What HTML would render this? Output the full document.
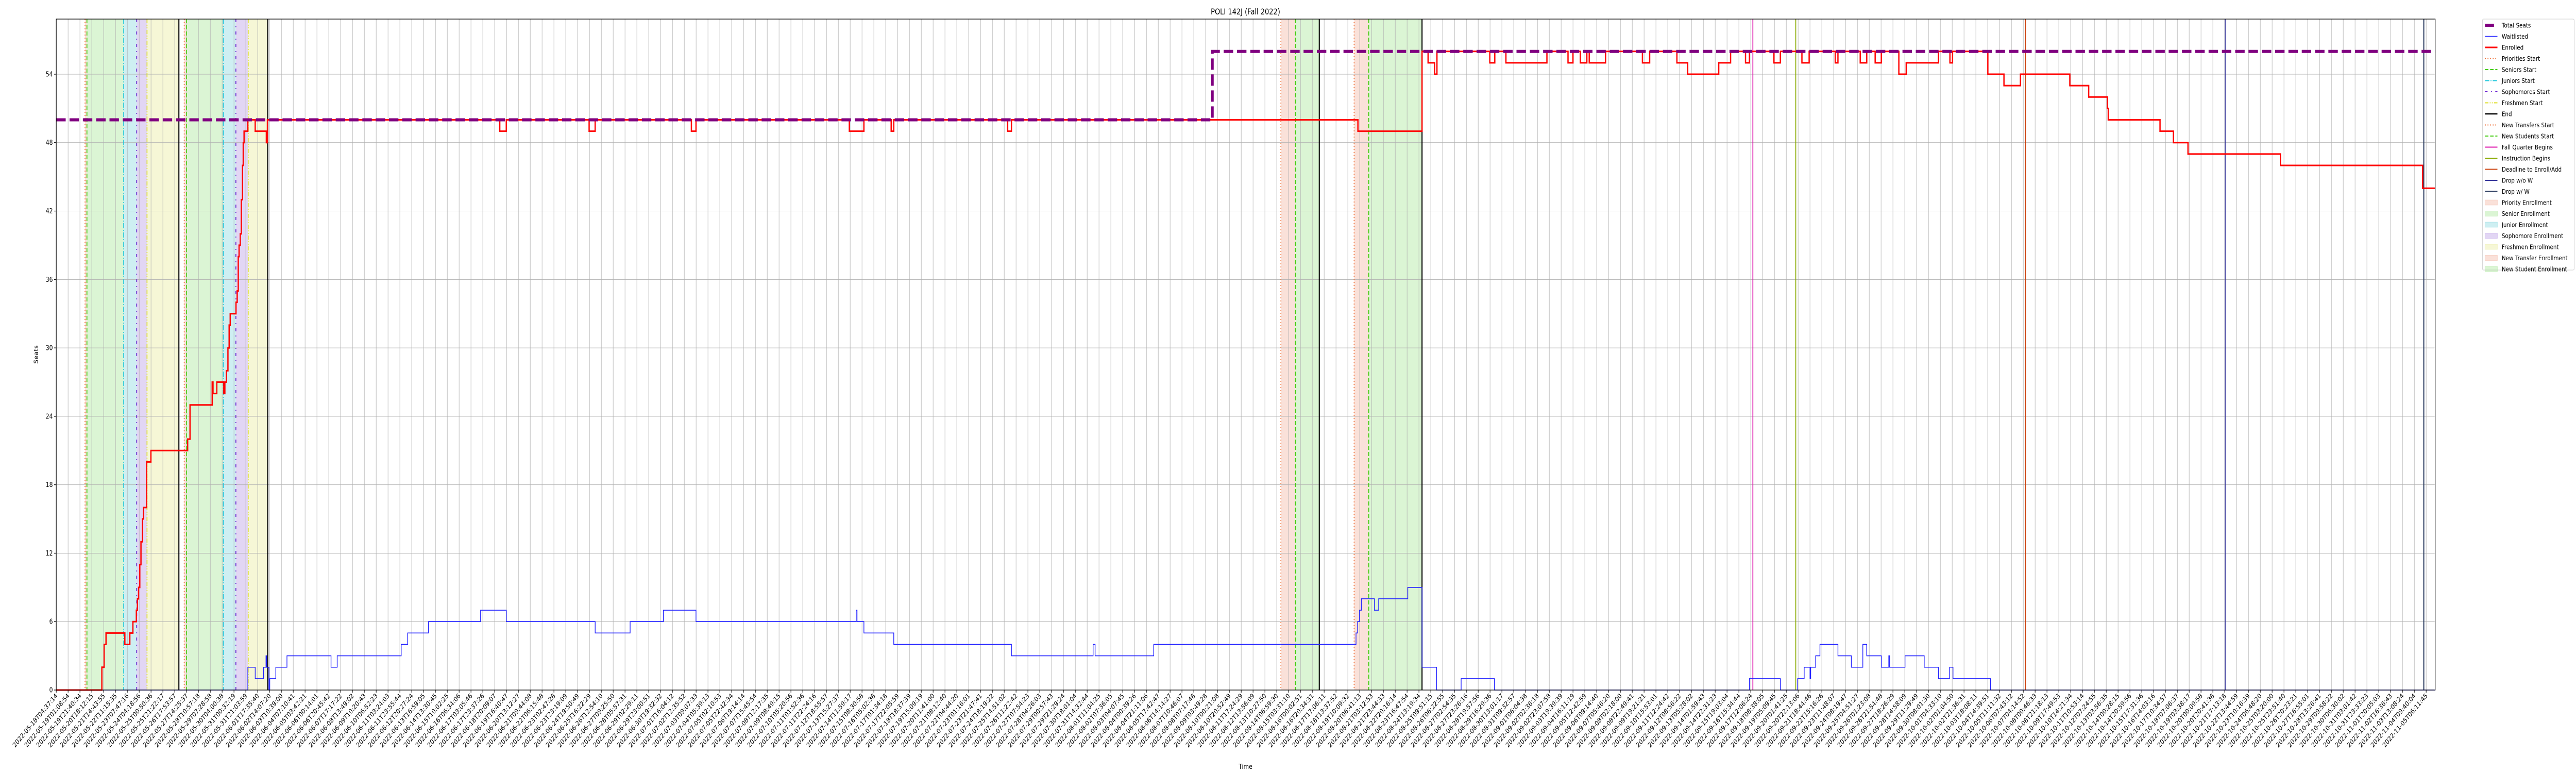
<!DOCTYPE html>
<html><head><meta charset="utf-8"><title>POLI 142J (Fall 2022)</title>
<style>
html,body{margin:0;padding:0;background:#fff;width:100%;height:100%;overflow:hidden;}
svg{display:block;overflow:hidden;width:100vw;height:100vh;}
svg text{font-family:"DejaVu Sans","Liberation Sans",sans-serif;fill:#000;}
</style></head>
<body>
<svg id="chart" xmlns="http://www.w3.org/2000/svg" viewBox="0 0 6000 1500" preserveAspectRatio="none">
<rect x="0" y="0" width="6000" height="1500" fill="#fff"/>
<g id="bands"></g>
<g id="grid"></g>
<g id="events"></g>
<g id="series"></g>
<g id="axes"></g>
<text x="2901" y="28" text-anchor="middle" font-size="15.6">POLI 142J (Fall 2022)</text>
<text x="2901" y="1492" text-anchor="middle" font-size="13">Time</text>
<text transform="translate(88,688) rotate(-90)" text-anchor="middle" font-size="13">Seats</text>
<g id="legend"></g>
</svg>
<script>
// ---- data (x in tick-index units, y in seats) ----
const totalSeatsT = [0, 97.57];
const totalSeatsV = [50, 56];
const enrolledT = [0,3.85,4.04,4.2,5.79,6.21,6.47,6.76,6.85,6.95,7.05,7.15,7.28,7.37,7.63,7.99,11.09,11.29,13.16,13.23,13.55,14.14,14.23,14.36,14.49,14.59,14.68,15.17,15.27,15.36,15.43,15.53,15.62,15.72,15.78,15.85,16.17,16.79,17.73,17.82,37.43,37.98,44.97,45.48,53.60,53.99,66.93,68.16,70.46,70.68,80.29,80.61,109.85,115.26,115.77,116.32,116.52,120.98,121.40,122.34,125.80,127.58,128.0,128.62,129.17,129.37,130.75,133.86,134.47,136.77,137.68,140.3,141.3,142.56,142.89,144.96,145.5,147.32,147.93,150.13,150.36,152.24,152.79,153.5,154.02,155.5,156.12,158.84,159.81,160.03,163.01,164.37,165.76,169.93,171.52,173.1,173.17,177.54,178.67,179.9,187.7,199.7];
const enrolledV = [0,2,4,5,4,5,6,7,8,9,11,13,15,16,20,21,22,25,27,26,27,26,27,28,30,32,33,34,35,38,39,40,43,46,48,49,50,49,48,50,49,50,49,50,49,50,49,50,49,50,49,50,49,56,55,54,56,55,56,55,56,55,56,55,56,55,56,55,56,55,54,55,56,55,56,55,56,55,56,55,56,55,56,55,56,54,55,56,55,56,54,53,54,53,52,51,50,49,48,47,46,44];
const waitT = [0,16.17,16.79,17.5,17.7,17.76,17.95,18.02,18.53,19.47,23.19,23.71,29.11,29.66,31.41,35.81,37.98,45.48,48.43,51.24,53.99,67.51,67.58,68.16,70.68,80.61,87.5,87.67,92.62,109.69,109.82,109.98,110.14,111.24,111.6,114.06,115.26,116.49,118.56,121.37,142.89,145.5,146.96,147.51,148.0,148.06,148.48,148.84,150.36,151.49,152.46,152.79,154.02,154.65,154.72,156.02,157.64,158.84,159.78,160.07,163.24];
const waitV = [0,2,1,2,3,2,0,1,2,3,2,3,4,5,6,7,6,5,6,7,6,7,6,5,4,3,4,3,4,5,6,7,8,7,8,9,2,0,1,0,1,0,1,2,1,2,3,4,3,2,4,3,2,3,2,3,2,1,2,1,0];
const bandStart = [2.43,2.59,5.69,6.79,7.66,10.8,11.0,14.1,15.16,16.2,103.35,104.58,109.53,110.76];
const bandEnd   = [2.59,5.69,6.79,7.66,10.35,11.0,14.1,15.16,16.2,17.85,104.58,106.59,110.76,115.26];
const bandKind  = ["priority","senior","junior","soph","fresh","priority","senior","junior","soph","fresh","priority","senior","priority","senior"];
const eventT    = [2.43,2.59,5.69,6.79,7.66,10.35,10.8,11.0,14.1,15.16,16.2,17.85,103.35,104.58,106.59,109.53,110.76,115.26,143.18,146.8,166.18,183.04,199.8];
const eventKind = ["priority","senior","junior","soph","fresh","end","priority","senior","junior","soph","fresh","end","priority","senior","end","priority","senior","end","fall","instr","deadline","dropnow","dropw"];
const yTicks = [0,6,12,18,24,30,36,42,48,54];
const tickCount = 201;
const tickStartMs = Date.UTC(2022,4,18,4,37,14);
const tickEndMs = Date.UTC(2022,10,5,6,11,45);
const tickLabels = [];
for (let i = 0; i < tickCount; i++) {
  const d = new Date(tickStartMs + (tickEndMs - tickStartMs) * i / (tickCount - 1));
  tickLabels.push(d.toISOString().slice(0,19));
}

// ---- geometry ----
const L = 131, R = 5672, T = 37, B = 1339;
const tMax = (R - L) / 27.6;
const yMax = (B - T) / 22.13;
const xS = t => L + t * (R - L) / tMax;
const yS = v => B - v * (B - T) / yMax;
const NS = "http://www.w3.org/2000/svg";
function mk(tag, attrs, parent) {
  const e = document.createElementNS(NS, tag);
  for (const k in attrs) e.setAttribute(k, attrs[k]);
  parent.appendChild(e);
  return e;
}
const styles = {
  priority:{c:"#ee6a2f",w:2,d:"2,4",fill:"rgba(232,120,80,0.22)"},
  senior:{c:"#44cc11",w:2,d:"8,4",fill:"rgba(90,210,60,0.22)"},
  junior:{c:"#22c8dc",w:2,d:"10,3,2,3",fill:"rgba(60,190,205,0.25)"},
  soph:{c:"#6a22d0",w:2,d:"6,8,2,8",fill:"rgba(140,90,210,0.25)"},
  fresh:{c:"#dede22",w:2,d:"8,3,2,3,2,3",fill:"rgba(225,230,120,0.3)"},
  end:{c:"#000",w:2.5,d:""},
  fall:{c:"#dd11aa",w:2,d:""},
  instr:{c:"#88aa00",w:2,d:""},
  deadline:{c:"#cc4411",w:2,d:""},
  dropnow:{c:"#333399",w:2,d:""},
  dropw:{c:"#334466",w:2.5,d:""}
};
const bandsG = document.getElementById('bands');
const gridG = document.getElementById('grid');
const evG = document.getElementById('events');
const serG = document.getElementById('series');
const axG = document.getElementById('axes');

for (let i = 0; i < bandStart.length; i++) {
  const r = mk('rect', {x:xS(bandStart[i]), y:T, width:xS(bandEnd[i])-xS(bandStart[i]), height:B-T, fill:styles[bandKind[i]].fill}, bandsG);
  
  
}
for (let i = 0; i < tickCount; i++) {
  const x = xS(i);
  const g = mk('line', {x1:x, x2:x, y1:T, y2:B, stroke:"#b0b0b0", "stroke-width":1}, gridG);
  
  
  const tk = mk('line', {x1:x, x2:x, y1:B, y2:B+5, stroke:"#000", "stroke-width":1.2}, axG);
  
  
  const tx = mk('text', {x:x+4, y:B+12, "font-size":13, "text-anchor":"end", transform:`rotate(-45 ${x+4} ${B+12})`}, axG);
  tx.textContent = tickLabels[i];
  
  
}
for (const v of yTicks) {
  const y = yS(v);
  const g = mk('line', {x1:L, x2:R, y1:y, y2:y, stroke:"#b0b0b0", "stroke-width":1}, gridG);
  
  
  const tk = mk('line', {x1:L-5, x2:L, y1:y, y2:y, stroke:"#000", "stroke-width":1.2}, axG);
  
  
  const tx = mk('text', {x:L-8, y:y+4.5, "font-size":13, "text-anchor":"end"}, axG);
  tx.textContent = String(v);
  
  
}
for (let i = 0; i < eventT.length; i++) {
  const s = styles[eventKind[i]];
  const x = xS(eventT[i]);
  const a = {x1:x, x2:x, y1:T, y2:B, stroke:s.c, "stroke-width":s.w};
  if (s.d) a["stroke-dasharray"] = s.d;
  const ln = mk('line', a, evG);
  
  
}
function stepPath(ts, vs) {
  let d = `M${xS(ts[0])},${yS(vs[0])}`;
  for (let i = 1; i < ts.length; i++) d += `H${xS(ts[i])}V${yS(vs[i])}`;
  d += `H${xS(tMax)}`;
  return d;
}
const wl = mk('path', {d:stepPath(waitT, waitV), fill:"none", stroke:"#1f1fff", "stroke-width":1.6}, serG);


const en = mk('path', {d:stepPath(enrolledT, enrolledV), fill:"none", stroke:"#ff0000", "stroke-width":3}, serG);


const ts = mk('path', {d:stepPath(totalSeatsT, totalSeatsV), fill:"none", stroke:"#800080", "stroke-width":6, "stroke-dasharray":"22,9"}, serG);


const frame = mk('rect', {x:L, y:T, width:R-L, height:B-T, fill:"none", stroke:"#000", "stroke-width":1.3}, axG);



// legend
const legNames = ["Total Seats","Waitlisted","Enrolled","Priorities Start","Seniors Start","Juniors Start","Sophomores Start","Freshmen Start","End","New Transfers Start","New Students Start","Fall Quarter Begins","Instruction Begins","Deadline to Enroll/Add","Drop w/o W","Drop w/ W","Priority Enrollment","Senior Enrollment","Junior Enrollment","Sophomore Enrollment","Freshmen Enrollment","New Transfer Enrollment","New Student Enrollment"];
const legKinds = ["total","wait","enr","priority","senior","junior","soph","fresh","end","priority","senior","fall","instr","deadline","dropnow","dropw","priority","senior","junior","soph","fresh","priority","senior"];
const lg = document.getElementById('legend');
const box = mk('rect', {x:5782, y:37, width:214, height:487, rx:3, fill:"#fff", stroke:"#cccccc", "stroke-width":1}, lg);


for (let i = 0; i < legNames.length; i++) {
  const y = 49 + i * 21.5;
  const k = legKinds[i];
  let h;
  if (i >= 16) {
    h = mk('rect', {x:5788, y:y-5, width:29, height:10, fill:styles[k].fill, stroke:styles[k].fill}, lg);
  } else if (k === 'total') {
    h = mk('line', {x1:5788, x2:5809, y1:y, y2:y, stroke:"#800080", "stroke-width":6}, lg);
  } else if (k === 'wait') {
    h = mk('line', {x1:5788, x2:5817, y1:y, y2:y, stroke:"#1f1fff", "stroke-width":1.6}, lg);
  } else if (k === 'enr') {
    h = mk('line', {x1:5788, x2:5817, y1:y, y2:y, stroke:"#ff0000", "stroke-width":3}, lg);
  } else {
    const s = styles[k];
    const a = {x1:5788, x2:5817, y1:y, y2:y, stroke:s.c, "stroke-width":s.w};
    if (s.d) a["stroke-dasharray"] = s.d;
    h = mk('line', a, lg);
  }
  
  
  const t = mk('text', {x:5827, y:y+4.5, "font-size":12.5}, lg);
  t.textContent = legNames[i];
  
  
}
</script>
</body></html>
